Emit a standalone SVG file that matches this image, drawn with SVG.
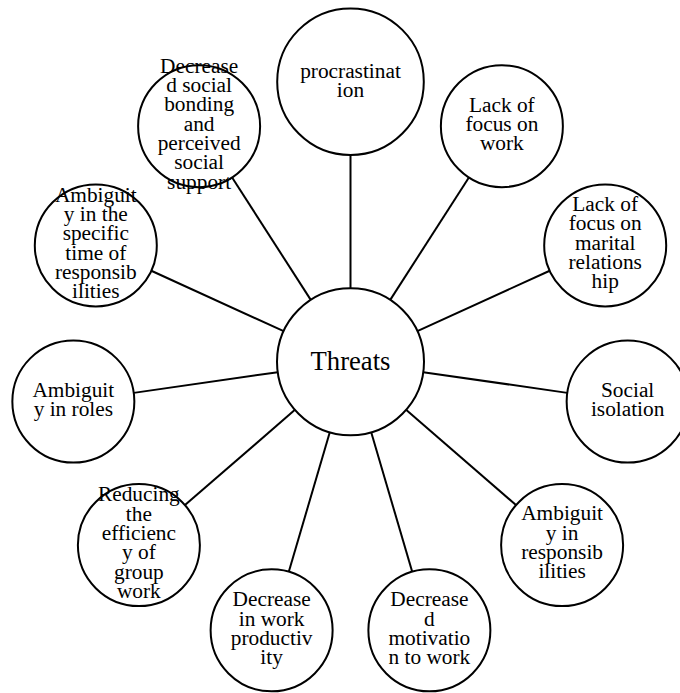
<svg xmlns="http://www.w3.org/2000/svg" width="680" height="693" viewBox="0 0 680 693">
<style>
.c{fill:#fff;stroke:#000;stroke-width:2}
.l{stroke:#000;stroke-width:2}
.t{font-family:'Liberation Serif','DejaVu Serif',serif;font-size:21.33px;fill:#000;text-anchor:middle}
.big{font-size:26.67px}
</style>
<rect width="680" height="693" fill="#fff"/>
<g id="connectors">
<line class="l" x1="350.5" y1="288.2" x2="350.5" y2="155"/>
<line class="l" x1="390.24" y1="299.87" x2="468.9" y2="177.47"/>
<line class="l" x1="417.36" y1="331.17" x2="549.71" y2="270.72"/>
<line class="l" x1="423.25" y1="372.16" x2="567.27" y2="392.87"/>
<line class="l" x1="406.05" y1="409.83" x2="516.01" y2="505.11"/>
<line class="l" x1="371.21" y1="432.22" x2="412.2" y2="571.83"/>
<line class="l" x1="329.79" y1="432.22" x2="288.8" y2="571.83"/>
<line class="l" x1="294.95" y1="409.83" x2="184.99" y2="505.11"/>
<line class="l" x1="277.75" y1="372.16" x2="133.73" y2="392.87"/>
<line class="l" x1="283.64" y1="331.17" x2="151.29" y2="270.72"/>
<line class="l" x1="310.76" y1="299.87" x2="232.1" y2="177.47"/>
</g>
<g id="threats">
<circle class="c" cx="350.5" cy="361.7" r="73.5"/>
<text class="t big" x="350.5" y="369.5">Threats</text>
</g>
<g id="procrastination">
<circle class="c" cx="350.5" cy="81.7" r="73.3"/>
<text class="t" x="350.5" y="77.6">procrastinat<tspan x="350.5" dy="19.2">ion</tspan></text>
</g>
<g id="focus-work">
<circle class="c" cx="501.88" cy="126.15" r="61"/>
<text class="t" x="501.88" y="111.5">Lack of<tspan x="501.88" dy="19.3">focus on</tspan><tspan x="501.88" dy="19.3">work</tspan></text>
</g>
<g id="focus-marital">
<circle class="c" cx="605.2" cy="245.38" r="61"/>
<text class="t" x="605.2" y="211">Lack of<tspan x="605.2" dy="19.3">focus on</tspan><tspan x="605.2" dy="19.3">marital</tspan><tspan x="605.2" dy="19.3">relations</tspan><tspan x="605.2" dy="19.3">hip</tspan></text>
</g>
<g id="social-isolation">
<circle class="c" cx="627.65" cy="401.55" r="61"/>
<text class="t" x="627.65" y="396.6">Social<tspan x="627.65" dy="19.3">isolation</tspan></text>
</g>
<g id="ambiguity-responsibilities">
<circle class="c" cx="562.11" cy="545.06" r="61"/>
<text class="t" x="562.11" y="520.2">Ambiguit<tspan x="562.11" dy="19.3">y in</tspan><tspan x="562.11" dy="19.3">responsib</tspan><tspan x="562.11" dy="19.3">ilities</tspan></text>
</g>
<g id="decreased-motivation">
<circle class="c" cx="429.38" cy="630.36" r="61"/>
<text class="t" x="429.38" y="606.4">Decrease<tspan x="429.38" dy="19.3">d</tspan><tspan x="429.38" dy="19.3">motivatio</tspan><tspan x="429.38" dy="19.3">n to work</tspan></text>
</g>
<g id="work-productivity">
<circle class="c" cx="271.62" cy="630.36" r="61"/>
<text class="t" x="271.62" y="606.4">Decrease<tspan x="271.62" dy="19.3">in work</tspan><tspan x="271.62" dy="19.3">productiv</tspan><tspan x="271.62" dy="19.3">ity</tspan></text>
</g>
<g id="group-work">
<circle class="c" cx="138.89" cy="545.06" r="61"/>
<text class="t" x="138.89" y="501.4">Reducing<tspan x="138.89" dy="19.3">the</tspan><tspan x="138.89" dy="19.3">efficienc</tspan><tspan x="138.89" dy="19.3">y of</tspan><tspan x="138.89" dy="19.3">group</tspan><tspan x="138.89" dy="19.3">work</tspan></text>
</g>
<g id="ambiguity-roles">
<circle class="c" cx="73.35" cy="401.55" r="61"/>
<text class="t" x="73.35" y="396.6">Ambiguit<tspan x="73.35" dy="19.3">y in roles</tspan></text>
</g>
<g id="ambiguity-time">
<circle class="c" cx="95.8" cy="245.38" r="61"/>
<text class="t" x="95.8" y="201.6">Ambiguit<tspan x="95.8" dy="19.3">y in the</tspan><tspan x="95.8" dy="19.3">specific</tspan><tspan x="95.8" dy="19.3">time of</tspan><tspan x="95.8" dy="19.3">responsib</tspan><tspan x="95.8" dy="19.3">ilities</tspan></text>
</g>
<g id="social-bonding">
<circle class="c" cx="199.12" cy="126.15" r="61"/>
<text class="t" x="199.12" y="72.7">Decrease<tspan x="199.12" dy="19.3">d social</tspan><tspan x="199.12" dy="19.3">bonding</tspan><tspan x="199.12" dy="19.3">and</tspan><tspan x="199.12" dy="19.3">perceived</tspan><tspan x="199.12" dy="19.3">social</tspan><tspan x="199.12" dy="19.3">support</tspan></text>
</g>
</svg>
